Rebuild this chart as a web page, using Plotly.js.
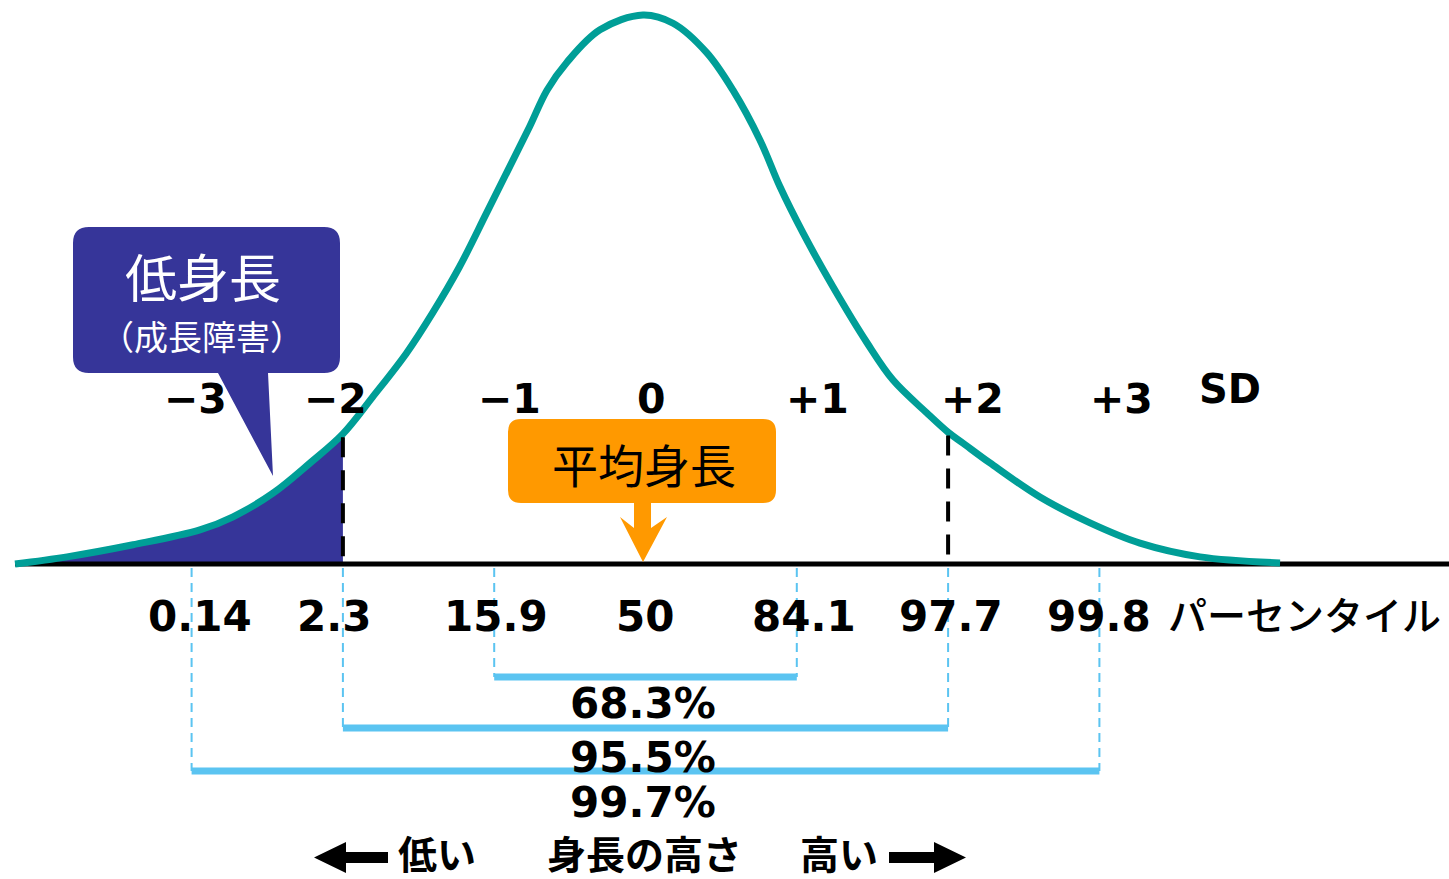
<!DOCTYPE html>
<html>
<head>
<meta charset="utf-8">
<script src="https://cdn.plot.ly/plotly-3.0.1.min.js"></script>
<style>
  html, body { margin: 0; padding: 0; background: #ffffff; overflow: hidden; }
  #chart { width: 1449px; height: 879px; }
</style>
</head>
<body>
<div id="chart"></div>
<script>
// Height distribution curve: position in SD units and relative height (peak = 1)
const curveSD = [-4.167, -3.823, -3.387, -2.945, -2.726, -2.462, -2.217, -2.000, -1.804, -1.580,
                 -1.408, -1.230, -1.051, -0.899, -0.767, -0.651, -0.519, -0.301, -0.017, 0.182,
                  0.406,  0.578,  0.757,  0.889,  1.041,  1.239,  1.464,  1.636,  1.860, 2.000,
                  2.099,  2.277,  2.607,  2.938,  3.268,  3.665,  4.194];
const curveH  = [0.000, 0.013, 0.035, 0.062, 0.086, 0.129, 0.184, 0.237, 0.304, 0.384,
                 0.457, 0.541, 0.639, 0.723, 0.796, 0.863, 0.914, 0.973, 1.000, 0.985,
                 0.931, 0.863, 0.772, 0.687, 0.603, 0.505, 0.403, 0.335, 0.275, 0.240,
                 0.220, 0.184, 0.122, 0.075, 0.038, 0.013, 0.002];

// SD positions and their labels
const sdTicks   = [-3, -2, -1, 0, 1, 2, 3];
const sdLabels  = ['−3', '−2', '−1', '0', '+1', '+2', '+3'];
const pctLabels = ['0.14', '2.3', '15.9', '50', '84.1', '97.7', '99.8'];

// Share of children inside ±1, ±2, ±3 SD
const rangeLo     = [-1, -2, -3];
const rangeHi     = [1, 2, 3];
const rangeLabels = ['68.3%', '95.5%', '99.7%'];

// Short-stature threshold (SD) and the reference lines
const shortCutSD = -2;
const guideSD    = [-2, 2];

// ---- page geometry: the plot fills the whole page ----
const W = 1449, H = 879;
const X0 = 645.5, SDPX = 151.3;   // pixel of the mean, pixels per SD
const Y0 = 564, HPX = 549;        // pixel of the baseline, pixels per unit height
const px2x = p => (p - X0) / SDPX;
const py2y = p => (Y0 - p) / HPX;
const P = (x, y) => px2x(x).toFixed(4) + ',' + py2y(y).toFixed(4);

const TEAL = '#009e97', NAVY = '#363599', ORANGE = '#ff9900', SKY = '#5bc4f1';
const CJK = '"Noto Sans CJK JP", "Noto Sans CJK SC", sans-serif';
const LATIN = '"DejaVu Sans", Verdana, sans-serif';

// curve height at a given SD, taken from the curve arrays
function heightAt(sd) {
  const i = curveSD.indexOf(sd);
  return curveH[i];
}

// rounded box with an optional pointer on its bottom edge (points go right → left)
function calloutPath(x0, y0, x1, y1, r, pointer) {
  let d = 'M' + P(x0 + r, y0) + ' L' + P(x1 - r, y0) +
          ' Q' + P(x1, y0) + ' ' + P(x1, y0 + r) +
          ' L' + P(x1, y1 - r) +
          ' Q' + P(x1, y1) + ' ' + P(x1 - r, y1);
  (pointer || []).forEach(pt => { d += ' L' + P(pt[0], pt[1]); });
  d += ' L' + P(x0 + r, y1) +
       ' Q' + P(x0, y1) + ' ' + P(x0, y1 - r) +
       ' L' + P(x0, y0 + r) +
       ' Q' + P(x0, y0) + ' ' + P(x0 + r, y0) + ' Z';
  return d;
}
function polyPath(pts) {
  return 'M' + pts.map(p => P(p[0], p[1])).join(' L') + ' Z';
}

// ---- traces ----
const shortIdx = curveSD.map((v, i) => i).filter(i => curveSD[i] <= shortCutSD);
const traces = [];

// shaded short-stature tail
traces.push({
  type: 'scatter', mode: 'lines',
  x: shortIdx.map(i => curveSD[i]), y: shortIdx.map(i => curveH[i]),
  line: { width: 0, shape: 'spline', smoothing: 1 },
  fill: 'tozeroy', fillcolor: NAVY, hoverinfo: 'skip'
});

// baseline
traces.push({
  type: 'scatter', mode: 'lines',
  x: [curveSD[0], px2x(W)], y: [0, 0],
  line: { color: '#000000', width: 5 }, hoverinfo: 'skip'
});

// distribution curve
traces.push({
  type: 'scatter', mode: 'lines',
  x: curveSD, y: curveH,
  line: { color: TEAL, width: 7, shape: 'spline', smoothing: 1 },
  hoverinfo: 'skip'
});

// range brackets
const barLevels = [py2y(677), py2y(728), py2y(771)];
rangeLo.forEach((lo, i) => {
  traces.push({
    type: 'scatter', mode: 'lines',
    x: [lo, rangeHi[i]], y: [barLevels[i], barLevels[i]],
    line: { color: SKY, width: 7 }, hoverinfo: 'skip'
  });
});

// ---- shapes ----
const shapes = [];

// dashed guides from each bracket end up to the baseline
rangeLo.forEach((lo, i) => {
  [lo, rangeHi[i]].forEach(sd => {
    shapes.push({
      type: 'line', xref: 'x', yref: 'y', layer: 'below',
      x0: sd, x1: sd, y0: py2y(568), y1: barLevels[i],
      line: { color: SKY, width: 2, dash: '9px,6px' }
    });
  });
});

// black dashed lines at ±2 SD
guideSD.forEach(sd => {
  shapes.push({
    type: 'line', xref: 'x', yref: 'y', layer: 'above',
    x0: sd, x1: sd, y0: heightAt(sd) - 0.006, y1: 0,
    line: { color: '#000000', width: 4, dash: '20px,13px' }
  });
});

// 低身長 callout
shapes.push({
  type: 'path', xref: 'x', yref: 'y', layer: 'above',
  path: calloutPath(73, 227, 340, 373, 16, [[268, 373], [273, 476], [218, 373]]),
  fillcolor: NAVY, line: { width: 0 }
});

// 平均身長 callout with arrow onto the mean
shapes.push({
  type: 'path', xref: 'x', yref: 'y', layer: 'above',
  path: calloutPath(508, 419, 776, 503, 13,
        [[651, 503], [651, 528], [667, 517], [643, 562], [620, 517], [634, 528], [634, 503]]),
  fillcolor: ORANGE, line: { width: 0 }
});

// height direction arrows
shapes.push({
  type: 'path', xref: 'x', yref: 'y', layer: 'above',
  path: polyPath([[314, 857.5], [346, 842], [346, 852], [388, 852], [388, 863], [346, 863], [346, 873]]),
  fillcolor: '#000000', line: { width: 0 }
});
shapes.push({
  type: 'path', xref: 'x', yref: 'y', layer: 'above',
  path: polyPath([[966, 857.5], [934, 842], [934, 852], [889, 852], [889, 863], [934, 863], [934, 873]]),
  fillcolor: '#000000', line: { width: 0 }
});

// ---- text ----
const annotations = [];
function label(text, x, y, size, opts) {
  opts = opts || {};
  annotations.push({
    text: text, x: x, y: y, xref: 'x', yref: 'y',
    xshift: opts.xshift || 0, yshift: opts.yshift || 0,
    showarrow: false, xanchor: 'center', yanchor: 'middle',
    font: { family: opts.family || LATIN, size: size, color: opts.color || '#000000',
            weight: opts.weight || 700 }
  });
}

const sdShift  = [4, -7, 15, 6, 21, 24, 22];
const pctShift = [8, -9, 2, -1, 7, 3, 0];
sdTicks.forEach((sd, i) => {
  label(sdLabels[i], sd, py2y(399), 41, { xshift: sdShift[i] });
  label(pctLabels[i], sd, py2y(616), 42, { xshift: pctShift[i] });
});
label('SD', px2x(1230), py2y(389), 40);
label('パーセンタイル', px2x(1304), py2y(613), 39, { family: CJK, weight: 500 });

const pctTextY = [py2y(703), py2y(757), py2y(802)];
rangeLabels.forEach((t, i) => label(t, 0, pctTextY[i], 42, { xshift: -3 }));

label('低身長', px2x(203), py2y(275), 52, { family: CJK, color: '#ffffff', weight: 400 });
label('（成長障害）', px2x(202), py2y(335), 34, { family: CJK, color: '#ffffff', weight: 400 });
label('平均身長', px2x(644), py2y(463), 46, { family: CJK, weight: 400 });

label('低い', px2x(437), py2y(852), 39, { family: CJK, weight: 700 });
label('身長の高さ', px2x(644), py2y(852), 39, { family: CJK, weight: 700 });
label('高い', px2x(839), py2y(852), 39, { family: CJK, weight: 700 });

const layout = {
  width: W, height: H,
  margin: { l: 0, r: 0, t: 0, b: 0, pad: 0 },
  paper_bgcolor: '#ffffff', plot_bgcolor: '#ffffff',
  showlegend: false,
  xaxis: { range: [px2x(0), px2x(W)], visible: false, fixedrange: true },
  yaxis: { range: [py2y(H), py2y(0)], visible: false, fixedrange: true },
  shapes: shapes,
  annotations: annotations
};

Plotly.newPlot('chart', traces, layout, { staticPlot: true, displayModeBar: false });
</script>
</body>
</html>
